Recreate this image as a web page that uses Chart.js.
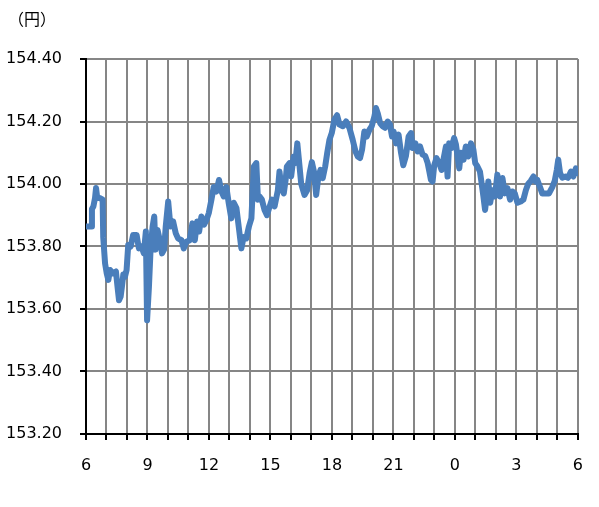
<!DOCTYPE html>
<html>
<head>
<meta charset="utf-8">
<script src="https://cdn.jsdelivr.net/npm/chart.js@4"></script>
<style>
  body { margin: 0; background: #fff; }
  #wrap { width: 599px; height: 507px; }
</style>
</head>
<body>
<div id="wrap"><canvas id="canvas" width="599" height="507"></canvas></div>
<script>
// elapsed hours since 6:00
const hours = [0, 0.27, 0.29, 0.36, 0.44, 0.49, 0.55, 0.68, 0.81, 0.84, 0.93, 1.01, 1.09, 1.17, 1.30, 1.46, 1.54, 1.61, 1.69, 1.75,
  1.82, 1.90, 1.98, 2.06, 2.18, 2.30, 2.47, 2.58, 2.71, 2.82, 2.92, 2.98, 3.07, 3.15, 3.25, 3.33, 3.39, 3.49, 3.60, 3.71,
  3.81, 3.89, 4.01, 4.12, 4.25, 4.38, 4.49, 4.66, 4.77, 4.90, 5.06, 5.19, 5.31, 5.42, 5.52, 5.63, 5.76, 5.88, 5.99, 6.12,
  6.23, 6.36, 6.49, 6.61, 6.72, 6.85, 6.96, 7.09, 7.21, 7.34, 7.45, 7.58, 7.69, 7.82, 7.95, 8.07, 8.19, 8.31, 8.39, 8.47,
  8.58, 8.71, 8.83, 8.96, 9.07, 9.20, 9.36, 9.44, 9.53, 9.65, 9.74, 9.80, 9.93, 10.01, 10.13, 10.21, 10.31, 10.38, 10.50, 10.66,
  10.79, 10.91, 11.02, 11.12, 11.23, 11.34, 11.44, 11.55, 11.67, 11.77, 11.88, 11.99, 12.12, 12.25, 12.37, 12.53, 12.69, 12.85, 13.01, 13.15,
  13.26, 13.37, 13.47, 13.58, 13.70, 13.83, 13.94, 14.07, 14.15, 14.23, 14.35, 14.47, 14.59, 14.72, 14.83, 14.93, 15.01, 15.13, 15.25, 15.37,
  15.48, 15.61, 15.74, 15.86, 15.93, 16.07, 16.18, 16.30, 16.42, 16.55, 16.67, 16.75, 16.83, 16.91, 16.99, 17.10, 17.23, 17.35, 17.44, 17.56,
  17.64, 17.72, 17.83, 17.96, 18.05, 18.13, 18.21, 18.29, 18.42, 18.53, 18.65, 18.78, 18.90, 18.99, 19.10, 19.22, 19.29, 19.39, 19.47, 19.56,
  19.63, 19.72, 19.83, 19.95, 20.07, 20.20, 20.32, 20.43, 20.56, 20.69, 20.80, 20.92, 21.05, 21.21, 21.34, 21.46, 21.57, 21.70, 21.83, 21.94,
  22.02, 22.15, 22.26, 22.43, 22.59, 22.75, 22.87, 22.97, 23.04, 23.13, 23.24, 23.40, 23.52, 23.66, 23.78, 23.90, 24.00];

// 円
const prices = [153.864, 153.864, 153.920, 153.928, 153.955, 153.987, 153.955, 153.955, 153.950, 153.830, 153.746, 153.714, 153.693, 153.725, 153.714, 153.720, 153.670, 153.628, 153.640, 153.670,
  153.710, 153.703, 153.725, 153.805, 153.800, 153.837, 153.837, 153.794, 153.800, 153.778, 153.848, 153.564, 153.670, 153.790, 153.864, 153.896, 153.790, 153.853, 153.820, 153.778,
  153.790, 153.864, 153.944, 153.864, 153.880, 153.842, 153.826, 153.820, 153.794, 153.815, 153.820, 153.874, 153.820, 153.880, 153.848, 153.896, 153.870, 153.885, 153.907, 153.950,
  153.990, 153.976, 154.013, 153.976, 153.960, 153.990, 153.940, 153.890, 153.940, 153.923, 153.864, 153.794, 153.830, 153.826, 153.864, 153.890, 154.056, 154.067, 153.950, 153.960,
  153.950, 153.917, 153.900, 153.928, 153.950, 153.928, 153.980, 154.040, 153.990, 153.970, 154.013, 154.056, 154.067, 154.024, 154.088, 154.067, 154.130, 154.083, 154.000, 153.965,
  153.980, 154.035, 154.070, 154.040, 153.965, 154.024, 154.045, 154.019, 154.056, 154.100, 154.142, 154.163, 154.206, 154.220, 154.190, 154.185, 154.200, 154.180, 154.142, 154.104,
  154.088, 154.083, 154.110, 154.168, 154.152, 154.174, 154.185, 154.216, 154.243, 154.227, 154.195, 154.185, 154.180, 154.200, 154.190, 154.152, 154.168, 154.130, 154.158, 154.100,
  154.060, 154.090, 154.152, 154.163, 154.115, 154.130, 154.104, 154.120, 154.094, 154.090, 154.067, 154.040, 154.013, 154.008, 154.060, 154.083, 154.067, 154.045, 154.078, 154.120,
  154.024, 154.130, 154.115, 154.147, 154.126, 154.088, 154.050, 154.100, 154.078, 154.120, 154.088, 154.130, 154.110, 154.067, 154.056, 154.040, 154.008, 153.960, 153.917, 153.965,
  154.008, 153.940, 153.980, 153.960, 154.030, 153.960, 154.019, 153.970, 153.987, 153.950, 153.976, 153.970, 153.940, 153.944, 153.950, 153.980, 154.000, 154.010, 154.024, 154.008,
  154.013, 153.990, 153.970, 153.970, 153.970, 153.990, 154.010, 154.045, 154.078, 154.035, 154.020, 154.024, 154.020, 154.040, 154.024, 154.050, 154.035];

const yTicks = [153.2, 153.4, 153.6, 153.8, 154.0, 154.2, 154.4];
const startHour = 6;

const points = hours.map((h, i) => ({ x: h, y: prices[i] }));

const unitLabel = {
  id: 'unitLabel',
  afterDraw(chart) {
    const ctx = chart.ctx;
    ctx.save();
    ctx.font = '16px "Noto Sans CJK JP"';
    ctx.fillStyle = '#000';
    ctx.textBaseline = 'middle';
    ctx.fillText('（円）', 8, 19);
    ctx.restore();
  }
};

const config = {
  type: 'line',
  data: {
    datasets: [{
      data: points,
      borderColor: '#4a7ebb',
      borderWidth: 6,
      borderJoinStyle: 'round',
      borderCapStyle: 'round',
      pointRadius: 0,
      tension: 0,
      fill: false
    }]
  },
  options: {
    responsive: false,
    animation: false,
    layout: { padding: { top: 59, right: 20, left: 0, bottom: 0 } },
    plugins: { legend: { display: false }, tooltip: { enabled: false } },
    scales: {
      x: {
        type: 'linear',
        min: 0,
        max: 24,
        afterFit: s => { s.height = 73; },
        border: { color: '#000', width: 2 },
        grid: { color: '#868686', lineWidth: 2, tickColor: '#000', tickWidth: 2, tickLength: 6 },
        ticks: {
          stepSize: 1,
          autoSkip: false,
          maxRotation: 0,
          padding: 16,
          color: '#000',
          font: { family: 'DejaVu Sans', size: 16 },
          callback: v => (v % 3 === 0 ? String((v + startHour) % 24) : '')
        }
      },
      y: {
        min: 153.2,
        max: 154.4,
        afterFit: s => { s.width = 86; },
        afterBuildTicks: s => { s.ticks = yTicks.map(v => ({ value: v })); },
        border: { color: '#000', width: 2 },
        grid: { color: '#868686', lineWidth: 2, tickColor: '#000', tickWidth: 2, tickLength: 6 },
        ticks: {
          padding: 18,
          color: '#000',
          font: { family: 'DejaVu Sans', size: 16 },
          callback: v => v.toFixed(2)
        }
      }
    }
  },
  plugins: [unitLabel]
};

window.onload = function() {
  new Chart(document.getElementById('canvas'), config);
};
</script>
</body>
</html>
